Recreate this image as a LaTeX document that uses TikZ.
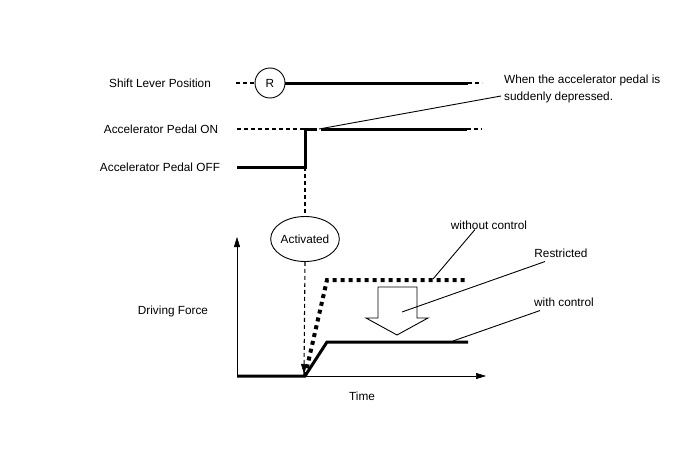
\documentclass[tikz,border=0pt]{standalone}
\usepackage{fontspec}
\setmainfont{Liberation Sans}
\usetikzlibrary{arrows.meta,shapes.geometric}
\begin{document}
\begin{tikzpicture}[x=1pt,y=-1pt,
  lbl/.style={font=\fontsize{11.8}{17}\selectfont, inner sep=0pt},
  dsh/.style={line width=1.1pt, dash pattern=on 4pt off 3pt},
  thk/.style={line width=3pt},
  dotln/.style={line width=4pt, dash pattern=on 4pt off 4pt},
  ldr/.style={line width=0.9pt},
  tip/.style={-{Triangle[length=10pt,width=6pt,fill=black,line width=0.5pt]}}
]
\useasboundingbox (0,0) rectangle (688,463);

% labels
\node[lbl] (shift) at (160,83) {Shift Lever Position};
\node[lbl] (aon) at (161,129) {Accelerator Pedal ON};
\node[lbl] (aoff) at (160,167) {Accelerator Pedal OFF};
\node[lbl,align=left,anchor=west] (note) at (504,88.5) {When the accelerator pedal is\\suddenly depressed.};
\node[lbl] (df) at (173,311) {Driving Force};
\node[lbl] (time) at (362,396) {Time};
\node[lbl] (woc) at (489,225) {without control};
\node[lbl] (restr) at (561,253) {Restricted};
\node[lbl] (wc) at (564,302) {with control};

% shift lever
\node[lbl, draw, circle, minimum size=30pt, line width=0.9pt] (R) at (270,83) {R};
\coordinate (s0) at (236,83);
\coordinate (s1) at (468,83);
\coordinate (s2) at (482,83);
\draw[dsh] (s0) -- (R.west);
\draw[thk] (R.east) -- (s1);
\draw[dsh] (s1) -- (s2);

% accelerator pedal
\coordinate (on0) at (237,129);
\coordinate (on1) at (305,129);
\coordinate (on2) at (317,129);
\coordinate (lp) at (319,129);
\coordinate (on3) at (321,129);
\coordinate (on4) at (467,129);
\coordinate (on5) at (482,129);
\coordinate (off0) at (237,167);
\coordinate (off1) at (305,167);
\draw[dsh] (on0) -- (on1);
\draw[thk] (off0) -- (off1) -- (on1) -- (on2);
\draw[thk] (on3) -- (on4);
\draw[dsh] (on4) -- (on5);
\coordinate (nl) at (501,96);
\draw[ldr] (lp) -- (nl);

% activated
\node[lbl, draw, ellipse, minimum width=64pt, minimum height=45pt, line width=0.9pt] (act) at (305,239) {Activated};
\coordinate (start) at (305,376);
\coordinate (atip) at (304,374);
\draw[dsh] (off1) -- (act.north);

% axes
\coordinate (org) at (237,376);
\coordinate (ytop) at (237,237);
\coordinate (xend) at (486,376);
\draw[ldr, tip] (org) -- (ytop);
\draw[ldr, tip] (org) -- (xend);

% curves
\coordinate (wc1) at (327,342);
\coordinate (wc2) at (468,342);
\coordinate (wo1) at (327,280);
\coordinate (wo2) at (468,280);
\draw[thk] (org) -- (start) -- (wc1) -- (wc2);
\draw[dotln] (start) -- (wo1) -- (wo2);
\draw[dsh, tip] (act.south) -- (atip);

% block arrow
\draw[ldr, fill=white] (378,287) -- (417,287) -- (417,318) -- (428,318) -- (397,335) -- (366,318) -- (378,318) -- cycle;

% leaders
\coordinate (wol) at (433,279);
\coordinate (rl) at (402,312);
\coordinate (wcl) at (453,341);
\draw[ldr] ([xshift=-14pt]woc.south) -- (wol);
\draw[ldr] ([xshift=-16pt,yshift=-4pt]restr.south) -- (rl);
\draw[ldr] ([xshift=-24pt,yshift=-4pt]wc.south) -- (wcl);
\end{tikzpicture}
\end{document}
